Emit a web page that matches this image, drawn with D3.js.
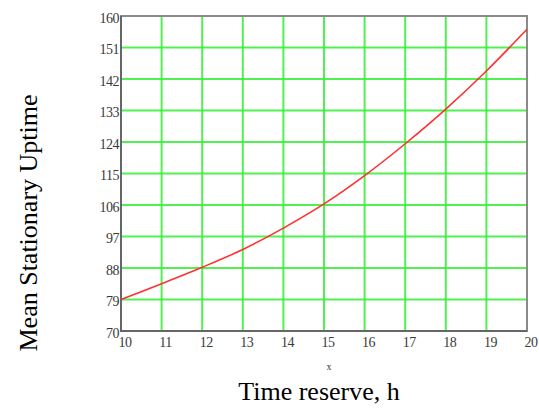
<!DOCTYPE html>
<html>
<head>
<meta charset="utf-8">
<script src="https://cdn.jsdelivr.net/npm/d3@7"></script>
<style>
  body { margin: 0; background: #fff; }
  svg text { font-family: "Liberation Serif", "DejaVu Serif", serif; }
</style>
</head>
<body>
<div id="chart"></div>
<script>
// time reserve, h
var hours = [10, 11, 12, 13, 14, 15, 16, 17, 18, 19, 20];
// mean stationary uptime
var uptime = [79, 83.5, 88.2, 93.3, 99.4, 106.3, 114.4, 123.5, 133.4, 144.3, 156.2];
var x_ticks = [10, 11, 12, 13, 14, 15, 16, 17, 18, 19, 20];
var y_ticks = [70, 79, 88, 97, 106, 115, 124, 133, 142, 151, 160];

var margin = {top: 16, right: 12, bottom: 77, left: 121};
var width = 539 - margin.left - margin.right;
var height = 408 - margin.top - margin.bottom;

var root = d3.select("#chart")
    .append("svg")
    .attr("width", 539)
    .attr("height", 408);

var svg = root.append("g")
    .attr("transform", "translate(" + margin.left + "," + margin.top + ")");

var x = d3.scaleLinear().domain([10, 20]).range([0, width]);
var y = d3.scaleLinear().domain([70, 160]).range([height, 0]);

// grid
svg.append("g")
    .selectAll("line")
    .data(x_ticks.slice(1, -1))
    .enter()
    .append("line")
    .attr("x1", d => x(d)).attr("x2", d => x(d))
    .attr("y1", 0).attr("y2", height)
    .attr("stroke", "#33ee33")
    .attr("stroke-opacity", 0.85)
    .attr("stroke-width", 2);

svg.append("g")
    .selectAll("line")
    .data(y_ticks.slice(1, -1))
    .enter()
    .append("line")
    .attr("x1", 0).attr("x2", width)
    .attr("y1", d => y(d)).attr("y2", d => y(d))
    .attr("stroke", "#33ee33")
    .attr("stroke-opacity", 0.85)
    .attr("stroke-width", 2);

// frame
svg.append("rect")
    .attr("x", 0).attr("y", 0)
    .attr("width", width).attr("height", height)
    .attr("fill", "none")
    .attr("stroke", "#8a8a8a")
    .attr("stroke-width", 2);

svg.append("path")
    .attr("d", "M0,0V" + height + "H" + width)
    .attr("fill", "none")
    .attr("stroke", "#666")
    .attr("stroke-width", 2);

// axes (labels only)
var xAxis = svg.append("g")
    .attr("transform", "translate(0," + height + ")")
    .call(d3.axisBottom(x).tickValues(x_ticks).tickSize(0).tickPadding(6));
xAxis.select(".domain").remove();
xAxis.selectAll("text")
    .attr("font-size", 14)
    .attr("fill", "#3a3a3a")
    .attr("letter-spacing", -0.5)
    .attr("dx", 3.5);

var yAxis = svg.append("g")
    .call(d3.axisLeft(y).tickValues(y_ticks).tickSize(0).tickPadding(2));
yAxis.select(".domain").remove();
yAxis.selectAll("text")
    .attr("font-size", 14)
    .attr("fill", "#3a3a3a")
    .attr("letter-spacing", -0.5)
    .attr("dy", "0.45em");

// curve
var line = d3.line()
    .x((d, i) => x(hours[i]))
    .y(d => y(d))
    .curve(d3.curveCatmullRom);

svg.append("path")
    .datum(uptime)
    .attr("d", line)
    .attr("fill", "none")
    .attr("stroke", "#ff3030")
    .attr("stroke-width", 1.6);

// small x label
svg.append("text")
    .attr("x", x(15) + 5)
    .attr("y", height + 39)
    .attr("text-anchor", "middle")
    .attr("font-size", 10)
    .attr("fill", "#333")
    .text("x");

// axis titles
root.append("text")
    .attr("x", 319)
    .attr("y", 400)
    .attr("text-anchor", "middle")
    .attr("font-size", 26)
    .attr("fill", "#000")
    .text("Time reserve, h");

root.append("text")
    .attr("transform", "translate(37,223) rotate(-90)")
    .attr("text-anchor", "middle")
    .attr("font-size", 26)
    .attr("fill", "#000")
    .text("Mean Stationary Uptime");
</script>
</body>
</html>
